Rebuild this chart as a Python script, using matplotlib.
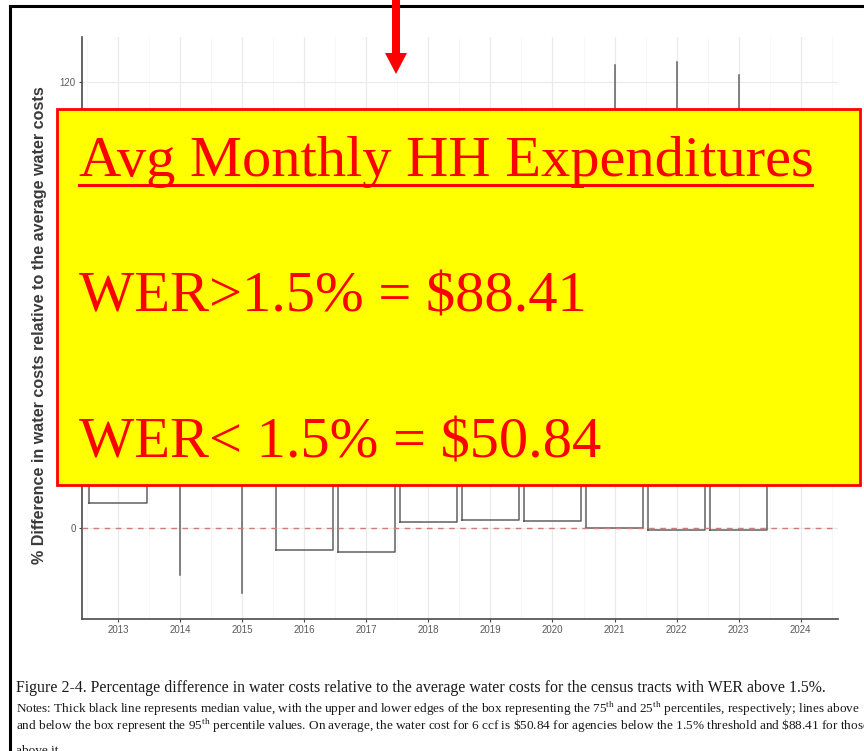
import matplotlib
matplotlib.use('Agg')
import matplotlib.pyplot as plt
from matplotlib.patches import Rectangle, Polygon
from matplotlib.lines import Line2D

plt.rcParams['mathtext.fontset'] = 'custom'
plt.rcParams['mathtext.rm'] = 'Liberation Serif'

# ---------------- data ----------------
years = ['2013', '2014', '2015', '2016', '2017', '2018', '2019', '2020',
         '2021', '2022', '2023', '2024']
box_years = years[:11]
q1 = [6.7, 20.0, 18.0, -5.9, -6.5, 1.6, 2.2, 1.9, 0.1, -0.5, -0.5]
med = [30.0, 45.0, 40.0, 20.0, 18.0, 25.0, 26.0, 27.0, 20.0, 18.0, 18.0]
q3 = [60.0, 75.0, 70.0, 50.0, 48.0, 55.0, 56.0, 57.0, 50.0, 48.0, 48.0]
whislo = [6.7, -12.6, -17.5, -5.9, -6.5, 1.6, 2.2, 1.9, 0.1, -0.5, -0.5]
whishi = [95.0, 105.0, 100.0, 90.0, 88.0, 95.0, 97.0, 98.0, 124.5, 125.3, 121.8]
yticks = [0, 40, 80, 120]

ylabel = '% Difference in water costs relative to the average water costs'
box_title = 'Avg Monthly HH Expenditures'
box_line2 = 'WER>1.5% = \\$88.41'
box_line3 = 'WER< 1.5% = \\$50.84'
cap1 = ('Figure 2-4. Percentage difference in water costs relative to the average '
        'water costs for the census tracts with WER above 1.5%.')
cap2 = ('Notes: Thick black line represents median value, with the upper and lower edges '
        'of the box representing the 75$^{\\mathrm{th}}$ and 25$^{\\mathrm{th}}$ percentiles, '
        'respectively; lines above')
cap3 = ('and below the box represent the 95$^{\\mathrm{th}}$ percentile values. On average, '
        'the water cost for 6 ccf is \\$50.84 for agencies below the 1.5% threshold and '
        '\\$88.41 for those')
cap4 = 'above it.'

# ---------------- figure ----------------
W, H = 864, 751
fig = plt.figure(figsize=(W / 100, H / 100), dpi=100)
fig.patch.set_facecolor('white')


def fx(x):
    return x / W


def fy(y):
    return 1 - y / H


ax = fig.add_axes([fx(82), fy(619), fx(838) - fx(82), fy(37) - fy(619)])
stats = []
for i, y in enumerate(box_years):
    stats.append(dict(label=y, q1=q1[i], med=med[i], q3=q3[i],
                      whislo=whislo[i], whishi=whishi[i]))
positions = list(range(1, len(box_years) + 1))
ax.bxp(stats, positions=positions, widths=0.92, showfliers=False, showcaps=False,
       boxprops=dict(color='#606060', lw=1.1),
       whiskerprops=dict(color='#606060', lw=1.1),
       medianprops=dict(color='#222222', lw=1.6), zorder=3)
ax.axhline(0, color='#d07a7a', lw=1.0, ls=(0, (4, 4)), zorder=4)

ax.set_xlim(0.42, 12.6)
ax.set_ylim(-24.5, 132.1)
ax.set_xticks(range(1, len(years) + 1))
ax.set_xticklabels(years)
ax.set_xticks([i + 0.5 for i in range(0, len(years) + 1)], minor=True)
ax.set_yticks(yticks)
ax.set_yticklabels([str(t) for t in yticks])
ax.set_yticks([20, 60, 100], minor=True)
ax.grid(True, which='major', color='#ebebeb', lw=0.9, zorder=0)
ax.grid(True, which='minor', color='#f6f6f6', lw=0.6, zorder=0)
ax.set_axisbelow(True)
for s in ['top', 'right']:
    ax.spines[s].set_visible(False)
for s in ['left', 'bottom']:
    ax.spines[s].set_color('#4a4a4a')
    ax.spines[s].set_linewidth(1.2)
ax.tick_params(which='major', length=2.5, width=0.8, color='#444444',
               labelcolor='#5a5a5a', labelsize=7, pad=2)
ax.tick_params(which='minor', length=0)
for lab in ax.get_xticklabels() + ax.get_yticklabels():
    lab.set_fontfamily('Liberation Sans')

ylab = fig.text(fx(40), fy(325), ylabel, rotation=90, ha='center', va='center',
                fontsize=9, fontweight='bold', color='#3a3a3a',
                family='Liberation Sans')

# frame of the screenshot
fig.add_artist(Line2D([fx(10), fx(10)], [fy(6), fy(760)], color='black', lw=2.2,
                      transform=fig.transFigure, zorder=20))
fig.add_artist(Line2D([fx(10), fx(870)], [fy(6), fy(6)], color='black', lw=2.2,
                      transform=fig.transFigure, zorder=20))

# red arrow
arrow_px = [(392, -3), (400, -3), (400, 53), (407, 53), (396, 74), (385, 53), (392, 53)]
fig.add_artist(Polygon([(fx(a), fy(b)) for a, b in arrow_px], closed=True,
                       facecolor='#ff0000', edgecolor='none',
                       transform=fig.transFigure, zorder=25))

# yellow box
fig.add_artist(Rectangle((fx(57), fy(485)), fx(860) - fx(57), fy(109) - fy(485),
                         facecolor='#ffff00', edgecolor='#ff0000', lw=2.0,
                         transform=fig.transFigure, zorder=30))

t1 = fig.text(fx(79), fy(176), box_title, ha='left', va='baseline', color='#ff0000',
              family='Liberation Serif', fontsize=40, zorder=31)
t2 = fig.text(fx(79), fy(312), box_line2, ha='left', va='baseline', color='#ff0000',
              family='Liberation Serif', fontsize=40, zorder=31)
t3 = fig.text(fx(79), fy(458), box_line3, ha='left', va='baseline', color='#ff0000',
              family='Liberation Serif', fontsize=40, zorder=31)

c1 = fig.text(fx(16), fy(692), cap1, ha='left', va='baseline', color='#1a1a1a',
              family='Liberation Serif', fontsize=10)
c2 = fig.text(fx(16), fy(713), cap2, ha='left', va='baseline', color='#1a1a1a',
              family='Liberation Serif', fontsize=8)
c3 = fig.text(fx(16), fy(730), cap3, ha='left', va='baseline', color='#1a1a1a',
              family='Liberation Serif', fontsize=8)
c4 = fig.text(fx(16), fy(754), cap4, ha='left', va='baseline', color='#1a1a1a',
              family='Liberation Serif', fontsize=8)

# fit text sizes to measured extents
fig.canvas.draw()
r = fig.canvas.get_renderer()


def fit(t, target, others=(), vertical=False):
    bb = t.get_window_extent(r)
    w = bb.height if vertical else bb.width
    fs = t.get_fontsize() * target / w
    t.set_fontsize(fs)
    for o in others:
        o.set_fontsize(fs)


fit(t1, 812 - 79, (t2, t3))
fit(c1, 827 - 16)
fit(c2, 858 - 16, (c3, c4))
fit(ylab, 480, vertical=True)

# underline for title
fig.add_artist(Line2D([fx(79), fx(812)], [fy(185), fy(185)], color='#ff0000', lw=2.2,
                      transform=fig.transFigure, zorder=32))

fig.savefig('out.png', dpi=100)
